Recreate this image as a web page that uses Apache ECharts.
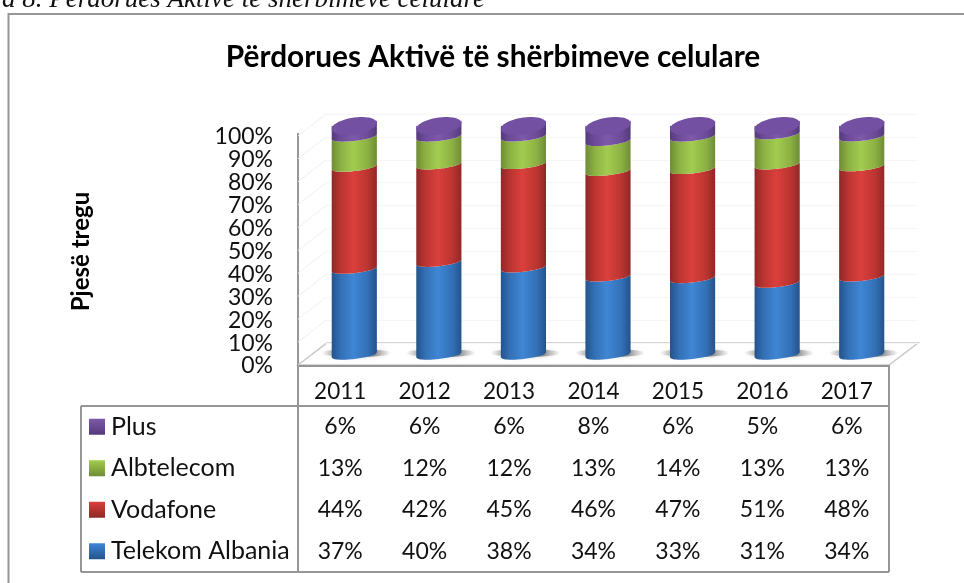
<!DOCTYPE html>
<html>
<head>
<meta charset="utf-8">
<style>html,body{margin:0;padding:0;background:#fff}#chart{width:964px;height:583px}</style>
<script src="https://cdn.jsdelivr.net/npm/echarts@6/dist/echarts.min.js"></script>
</head>
<body>
<div id="chart"></div>
<script>
const years = ["2011", "2012", "2013", "2014", "2015", "2016", "2017"];
const rowNames = ["Plus", "Albtelecom", "Vodafone", "Telekom Albania"];
const plus = [6, 6, 6, 8, 6, 5, 6];
const albtelecom = [13, 12, 12, 13, 14, 13, 13];
const vodafone = [44, 42, 45, 46, 47, 51, 48];
const telekom = [37, 40, 38, 34, 33, 31, 34];
const axisTicks = [0, 10, 20, 30, 40, 50, 60, 70, 80, 90, 100];

const rows = [plus, albtelecom, vodafone, telekom];
// dark edge, mid tone, bright middle
const shades = {
  "Plus": ["#553a7c", "#6c4b98", "#7d59aa"],
  "Albtelecom": ["#6f8c36", "#8cb043", "#a2cc50"],
  "Vodafone": ["#8f2826", "#bb3431", "#da403c"],
  "Telekom Albania": ["#24538b", "#3370b5", "#3f86d4"],
};
const font = "Lato";
const gray = "#969696";

const hGrad = (c) => ({
  type: "linear", x: 0, y: 0, x2: 1, y2: 0,
  colorStops: [
    { offset: 0, color: c[0] },
    { offset: 0.2, color: c[1] },
    { offset: 0.48, color: c[2] },
    { offset: 0.8, color: c[1] },
    { offset: 1, color: c[0] },
  ],
});

const arc = (cx, yc, a, b, tilt) => {
  const pts = [];
  for (let i = 0; i <= 28; i++) {
    const t = -1 + i / 14;
    pts.push([cx + a * t, yc - tilt * t + b * Math.sqrt(Math.max(0, 1 - t * t))]);
  }
  return pts;
};

const capPoints = (cx, yc, a, b, tilt) => {
  const pts = [];
  for (let i = 0; i < 48; i++) {
    const th = (i / 48) * Math.PI * 2;
    pts.push([cx + a * Math.cos(th), yc - tilt * Math.cos(th) + b * Math.sin(th)]);
  }
  return pts;
};

// cumulative, normalised to 100 like a 100% stacked chart
const segments = (name) => {
  const idx = rowNames.indexOf(name);
  return years.map((y, i) => {
    const total = rows.reduce((s, r) => s + r[i], 0);
    let low = 0;
    for (let k = rows.length - 1; k > idx; k--) low += rows[k][i];
    return [i, (low / total) * 100, ((low + rows[idx][i]) / total) * 100];
  });
};

const cylinder = (name) => ({
  type: "custom",
  name,
  xAxisIndex: 1,
  yAxisIndex: 1,
  clip: false,
  data: segments(name),
  z: 3,
  renderItem: (params, api) => {
    const low = api.coord([api.value(0), api.value(1)]);
    const high = api.coord([api.value(0), api.value(2)]);
    const half = api.size([1, 0])[0] * 0.267;
    const colors = shades[name];
    const children = [];
    if (name === "Telekom Albania") {
      // soft shadow on the floor
      children.push({
        type: "ellipse",
        shape: { cx: low[0] + 2, cy: low[1] - 2, rx: 35, ry: 4 },
        style: {
          fill: {
            type: "linear", x: 0, y: 0, x2: 1, y2: 0,
            colorStops: [
              { offset: 0, color: "rgba(130,130,130,0)" },
              { offset: 0.25, color: "rgba(90,90,90,0.65)" },
              { offset: 0.75, color: "rgba(90,90,90,0.65)" },
              { offset: 1, color: "rgba(130,130,130,0)" },
            ],
          },
          shadowBlur: 5,
          shadowColor: "rgba(130,130,130,0.5)",
        },
      });
    }
    const body = arc(low[0], high[1], half, 4, 2.5).concat(arc(low[0], low[1], half, 4, 2.5).reverse());
    children.push({ type: "polygon", shape: { points: body }, style: { fill: hGrad(colors) } });
    if (name === "Plus") {
      children.push({
        type: "polygon",
        shape: { points: capPoints(high[0], high[1] + 3, half, 8.5, 3) },
        style: { fill: "#7350a2" },
      });
    }
    return { type: "group", children };
  },
});

const wallLines = {
  type: "custom",
  xAxisIndex: 0,
  yAxisIndex: 0,
  clip: false,
  silent: true,
  z: 1,
  data: axisTicks.map((t) => [0, t]),
  renderItem: (params, api) => {
    const p = api.coord([0, api.value(1)]);
    const x = p[0] - api.size([1, 0])[0] / 2;
    return {
      type: "line",
      shape: { x1: x, y1: p[1] - 1, x2: x + 28, y2: p[1] - 23 },
      style: { stroke: api.value(1) === 0 ? "#cfcfcf" : "#f0f0f0", lineWidth: 1 },
    };
  },
};

const tableValues = {
  type: "custom",
  xAxisIndex: 2,
  yAxisIndex: 2,
  clip: false,
  data: rows.flatMap((r, ri) => r.map((v, ci) => [ci, ri, v])),
  renderItem: (params, api) => {
    const p = api.coord([api.value(0), api.value(1)]);
    return {
      type: "text",
      x: p[0],
      y: p[1],
      style: { text: api.value(2) + "%", font: "23px " + font, fill: "#111", align: "center", verticalAlign: "middle" },
    };
  },
};

const tableLegend = {
  type: "custom",
  xAxisIndex: 2,
  yAxisIndex: 2,
  clip: false,
  data: rowNames.map((n, ri) => [0, ri]),
  renderItem: (params, api) => {
    const p = api.coord([0, api.value(1)]);
    const name = rowNames[params.dataIndex];
    const c = shades[name];
    return {
      type: "group",
      children: [
        {
          type: "rect",
          shape: { x: 89, y: p[1] - 8, width: 16, height: 16 },
          style: {
            fill: {
              type: "linear", x: 0, y: 0, x2: 0, y2: 1,
              colorStops: [{ offset: 0, color: c[2] }, { offset: 1, color: c[0] }],
            },
          },
        },
        {
          type: "text",
          x: 111,
          y: p[1],
          style: { text: name, font: "25px " + font, fill: "#111", align: "left", verticalAlign: "middle" },
        },
      ],
    };
  },
};

const line = (x1, y1, x2, y2, stroke, lineWidth) => ({
  type: "line",
  shape: { x1, y1, x2, y2 },
  style: { stroke, lineWidth },
});

const chart = echarts.init(document.getElementById("chart"), null, { renderer: "canvas" });
chart.setOption({
  animation: false,
  backgroundColor: "#fff",
  title: {
    text: "Përdorues Aktivë të shërbimeve celulare",
    left: 488,
    top: 37,
    textAlign: "center",
    textStyle: { fontFamily: font, fontSize: 29.8, fontWeight: "bold", color: "#000" },
  },
  grid: [
    { left: 298, top: 137, width: 591, height: 229 },
    { left: 312, top: 123, width: 592, height: 232 },
    { left: 298, top: 406, width: 591, height: 166 },
    { left: 326, top: 114, width: 592, height: 229 },
  ],
  xAxis: [
    {
      type: "category", gridIndex: 0, data: years,
      axisTick: { show: false },
      axisLine: { lineStyle: { color: gray, width: 2 } },
      axisLabel: { margin: 14, fontFamily: font, fontSize: 22.5, color: "#111" },
    },
    { type: "category", gridIndex: 1, data: years, show: false },
    { type: "category", gridIndex: 2, data: years, show: false },
    { type: "category", gridIndex: 3, data: years, show: false },
  ],
  yAxis: [
    {
      type: "value", gridIndex: 0, min: 0, max: 100, interval: 10,
      name: "Pjesë tregu",
      nameLocation: "middle",
      nameGap: 205,
      nameRotate: 90,
      nameTextStyle: { fontFamily: font, fontSize: 24, fontWeight: "bold", color: "#000" },
      axisLine: { show: false },
      axisTick: { show: false },
      splitLine: { show: false },
      axisLabel: { margin: 25, formatter: "{value}%", fontFamily: font, fontSize: 23, color: "#111", lineHeight: 23 },
    },
    { type: "value", gridIndex: 1, min: 0, max: 100, show: false },
    { type: "category", gridIndex: 2, data: rowNames, inverse: true, show: false },
    {
      type: "value", gridIndex: 3, min: 0, max: 100, interval: 10,
      axisLine: { show: false }, axisTick: { show: false }, axisLabel: { show: false },
      splitLine: { show: true, lineStyle: { color: "#f6f6f6", width: 1 } },
    },
  ],
  graphic: [
    {
      type: "polygon",
      shape: { points: [[298, 365], [327, 343], [918, 343], [889, 365]] },
      style: { fill: "#fff", stroke: "#c9c9c9", lineWidth: 1.5 },
    },
    // chart frame
    line(8.5, 13, 8.5, 583, gray, 2),
    line(8, 14, 964, 14, gray, 2),
    // value axis and data table rules
    line(298, 133, 298, 572, gray, 2),
    line(889, 365, 889, 572, gray, 2),
    line(81, 406, 889, 406, gray, 2),
    line(81, 572, 889, 572, gray, 2),
    line(81, 406, 81, 572, gray, 2),
    {
      type: "text",
      x: 2,
      y: 13,
      style: {
        text: "a 8. Përdorues Aktivë të shërbimeve celulare",
        font: "italic 27px 'Liberation Serif'",
        fill: "#111",
        align: "left",
        verticalAlign: "bottom",
      },
    },
  ],
  series: [
    wallLines,
    cylinder("Telekom Albania"),
    cylinder("Vodafone"),
    cylinder("Albtelecom"),
    cylinder("Plus"),
    tableLegend,
    tableValues,
  ],
});
</script>
</body>
</html>
